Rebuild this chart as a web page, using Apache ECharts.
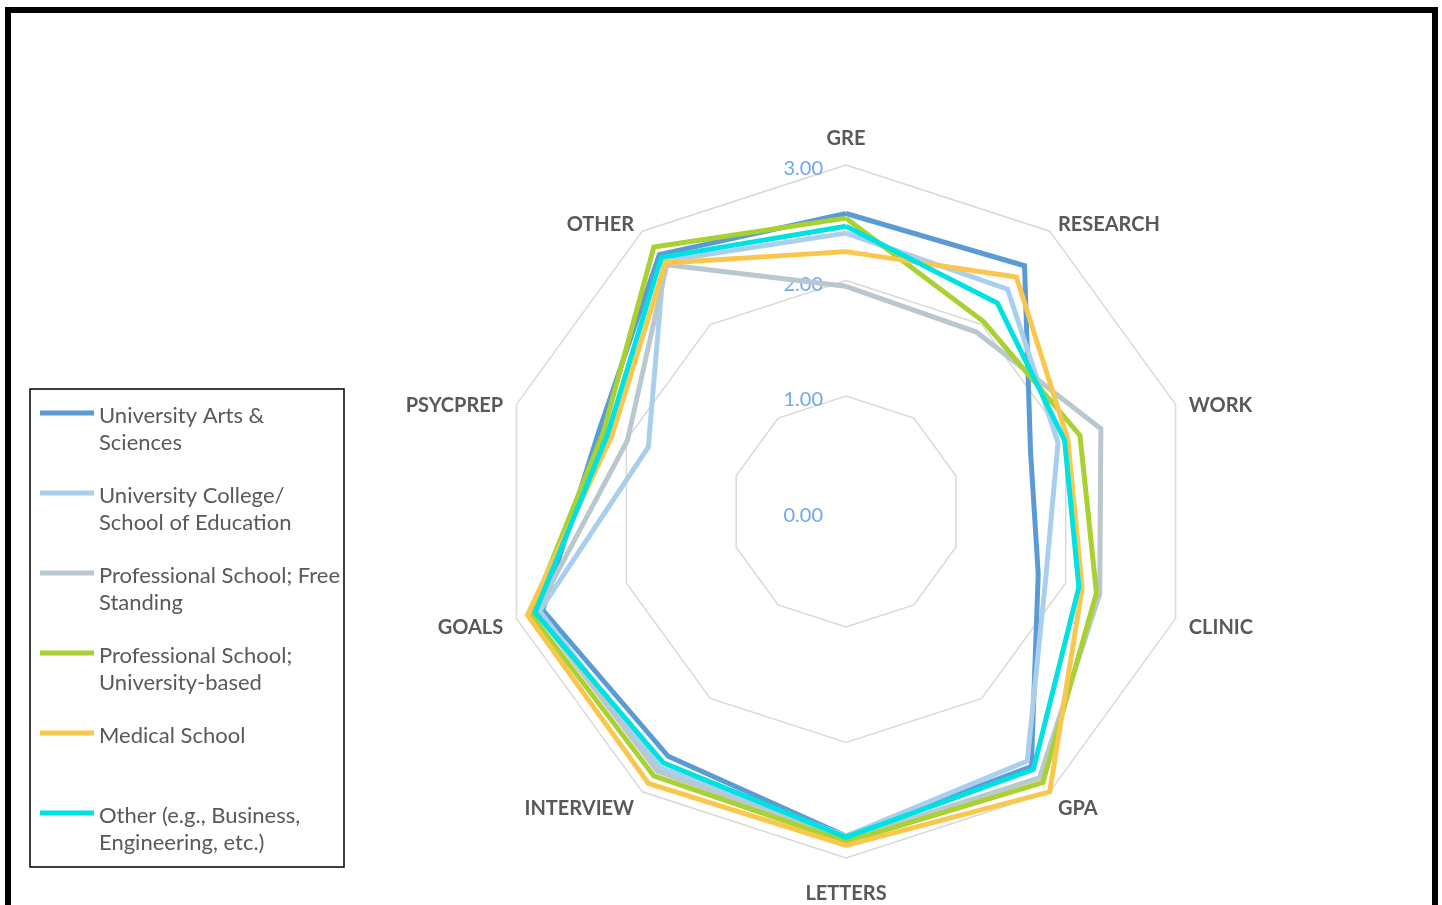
<!DOCTYPE html>
<html>
<head>
<meta charset="utf-8">
<title>Admission criteria ratings by program type</title>
<script src="https://cdn.jsdelivr.net/npm/echarts@6/dist/echarts.min.js"></script>
<style>
  html, body { margin: 0; padding: 0; background: #ffffff; }
  #frame {
    position: absolute; left: 5px; top: 7px; width: 1433px; height: 1000px;
    border: 6px solid #000000; box-sizing: border-box; pointer-events: none; z-index: 2;
  }
  #chart { position: absolute; left: 0; top: 0; width: 1442px; height: 905px; z-index: 1; }
</style>
</head>
<body>
<div id="chart"></div>
<div id="frame"></div>
<script>
// Criteria, listed clockwise from the top of the radar
const categories = ['GRE', 'RESEARCH', 'WORK', 'CLINIC', 'GPA', 'LETTERS', 'INTERVIEW', 'GOALS', 'PSYCPREP', 'OTHER'];

// Mean rating per criterion (0–3), same order as categories
const artsSciences      = [2.58, 2.63, 1.68, 1.75, 2.73, 2.81, 2.62, 2.76, 2.25, 2.75];
const collegeEducation  = [2.41, 2.38, 1.93, 1.82, 2.67, 2.81, 2.74, 2.79, 1.80, 2.68];
const profFreeStanding  = [1.95, 1.92, 2.32, 2.31, 2.85, 2.84, 2.78, 2.82, 1.99, 2.64];
const profUniversity    = [2.54, 2.03, 2.13, 2.28, 2.90, 2.86, 2.83, 2.87, 2.21, 2.83];
const medicalSchool     = [2.25, 2.51, 2.02, 2.15, 3.00, 2.89, 2.91, 2.90, 2.13, 2.66];
const otherPrograms     = [2.47, 2.23, 1.99, 2.12, 2.76, 2.82, 2.69, 2.83, 2.17, 2.72];

const seriesNames = [
  'University Arts & Sciences',
  'University College/ School of Education',
  'Professional School; Free Standing',
  'Professional School; University-based',
  'Medical School',
  'Other (e.g., Business, Engineering, etc.)'
];
// Legend text, wrapped the way it is shown in the legend box
const legendLabels = [
  'University Arts &\nSciences',
  'University College/\nSchool of Education',
  'Professional School; Free\nStanding',
  'Professional School;\nUniversity-based',
  'Medical School\n ',
  'Other (e.g., Business,\nEngineering, etc.)'
];
const seriesValues = [artsSciences, collegeEducation, profFreeStanding, profUniversity, medicalSchool, otherPrograms];
const seriesColors = ['#5B9BD5', '#A9CFEE', '#B9C7CF', '#A9D131', '#F9C74E', '#00E1E1'];

// Rating scale ticks
const scaleMin = 0;
const scaleMax = 3;
const scaleStep = 1;

// ECharts lays radar indicators out counter-clockwise, so feed them in reverse
// (keeping the first one at the top) to get a clockwise layout.
const order = [0].concat(categories.map((_, i) => i).slice(1).reverse());

const center = [846, 511.5];
const radius = 346.5;

const chart = echarts.init(document.getElementById('chart'), null, { renderer: 'canvas' });

const option = {
  backgroundColor: 'transparent',
  animation: false,
  color: seriesColors,
  textStyle: { fontFamily: 'Lato' },
  radar: {
    center: center,
    radius: radius,
    startAngle: 90,
    shape: 'polygon',
    splitNumber: (scaleMax - scaleMin) / scaleStep,
    indicator: order.map(i => ({ name: categories[i], min: scaleMin, max: scaleMax })),
    nameGap: 14,
    axisName: {
      // a thin spacer line above each name nudges it slightly downward
      formatter: n => '{g| }\n{n|' + n + '}',
      rich: {
        g: { fontSize: 1, lineHeight: 10 },
        n: { color: '#595959', fontWeight: 'bold', fontSize: 20, fontFamily: 'Lato', lineHeight: 24 }
      }
    },
    axisLine: { show: false },
    axisTick: { show: false },
    axisLabel: { show: false },
    splitArea: { show: false },
    splitLine: { lineStyle: { color: '#D9D9D9', width: 1.5 } }
  },
  // Polar system at the radar's centre (labels sit just below each ring), used only for the scale labels
  polar: { center: [center[0], center[1] + 4], radius: radius },
  angleAxis: {
    type: 'value', startAngle: 90, min: 0, max: 360, show: false
  },
  radiusAxis: {
    type: 'value', min: scaleMin, max: scaleMax, interval: scaleStep,
    axisLine: { show: false }, axisTick: { show: false }, splitLine: { show: false },
    axisLabel: {
      color: '#6FA8F2', fontSize: 20, fontFamily: 'Lato', margin: 23,
      formatter: v => v.toFixed(2)
    }
  },
  legend: {
    orient: 'vertical',
    left: 30,
    top: 389,
    padding: [13.5, 1, 10.5, 10],
    borderColor: '#000000',
    borderWidth: 1.5,
    itemGap: 26,
    itemWidth: 54,
    itemHeight: 38,
    // Bar drawn at the top of the icon box so it lines up with the first text line
    icon: 'path://M0,0 L54,0 L54,5 L0,5 Z M0,38',
    itemStyle: { borderWidth: 0 },
    data: seriesNames,
    formatter: name => legendLabels[seriesNames.indexOf(name)],
    textStyle: { color: '#595959', fontSize: 22, fontFamily: 'Lato', lineHeight: 27, width: 244 }
  },
  series: seriesNames.map((name, k) => ({
    type: 'radar',
    name: name,
    symbol: 'none',
    itemStyle: { color: seriesColors[k] },
    lineStyle: { color: seriesColors[k], width: 5, join: 'miter' },
    data: [{ name: name, value: order.map(i => seriesValues[k][i]) }]
  }))
};

chart.setOption(option);
</script>
</body>
</html>
